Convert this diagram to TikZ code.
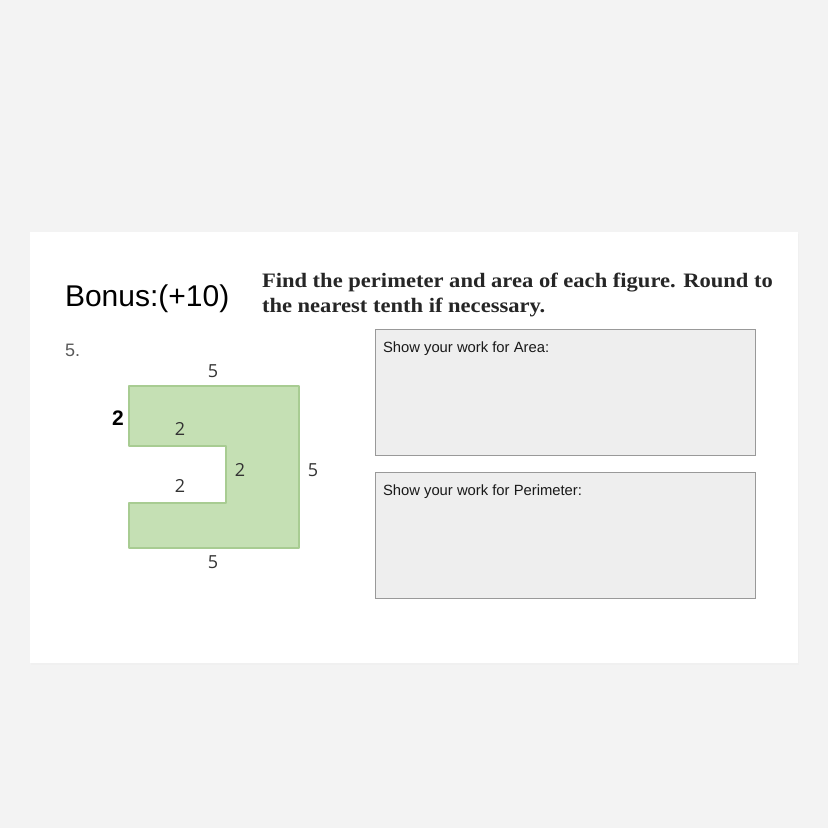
\documentclass[tikz,border=0pt]{standalone}
\usepackage{fontspec}
\setmainfont{Liberation Sans}
\newfontfamily\digitfont{Open Sans}
\newfontfamily\headfont[FakeStretch=1.10]{Liberation Serif}
\definecolor{pagegray}{HTML}{F3F3F3}
\definecolor{shapegreen}{HTML}{C5E0B4}
\definecolor{shapeedge}{HTML}{A8CC92}
\definecolor{boxgray}{HTML}{EEEEEE}
\definecolor{boxedge}{HTML}{999999}

\begin{document}
\begin{tikzpicture}[
    x=1pt, y=-1pt,
    every node/.style={inner sep=0pt, outer sep=0pt},
    dimlabel/.style={font=\digitfont\fontsize{18}{18}\selectfont, text=black!80},
    workbox/.style={fill=boxgray, draw=boxedge, line width=1pt},
    worktext/.style={anchor=base west, font=\fontsize{14.8}{14.8}\selectfont, text=black!90},
    headline/.style={anchor=base west, font=\headfont\bfseries\fontsize{20.5}{25}\selectfont, text=black!85},
]
\useasboundingbox (0,0) rectangle (828,828);
\fill[pagegray] (0,0) rectangle (828,828);
\fill[black!6] (31,234) rectangle (799,665);
\fill[white] (30,232) rectangle (798,663);

% headings
\node[anchor=base west, font=\fontsize{30}{30}\selectfont] (bonus) at (65,306) {Bonus:(+10)};
\node[anchor=base west, font=\fontsize{18}{18}\selectfont, text=black!65] (num) at (65,356) {5.};
\node[headline] (task1) at (262,287) {Find the perimeter and area of each figure. Round to};
\node[headline] (task2) at (262,312) {the nearest tenth if necessary.};

% the figure
\filldraw[fill=shapegreen, draw=shapeedge, line width=1.5pt, line join=round]
    (129,386) -- (299,386) -- (299,548) -- (129,548) -- (129,503)
    -- (226,503) -- (226,446) -- (129,446) -- cycle;
\node[dimlabel] (top) at (213,371) {5};
\node[dimlabel] (right) at (313,470) {5};
\node[dimlabel] (bottom) at (213,562) {5};
\node[dimlabel] (armtop) at (180,429) {2};
\node[dimlabel] (gap) at (180,486) {2};
\node[dimlabel] (depth) at (240,470) {2};
\node[font=\bfseries\fontsize{21}{21}\selectfont] (side) at (118,418) {2};

% answer boxes
\draw[workbox] (375,329) rectangle (755,455);
\draw[workbox] (375,472) rectangle (755,598);
\node[worktext] (area) at (383,352) {Show your work for Area:};
\node[worktext] (perim) at (383,495) {Show your work for Perimeter:};
\end{tikzpicture}
\end{document}
